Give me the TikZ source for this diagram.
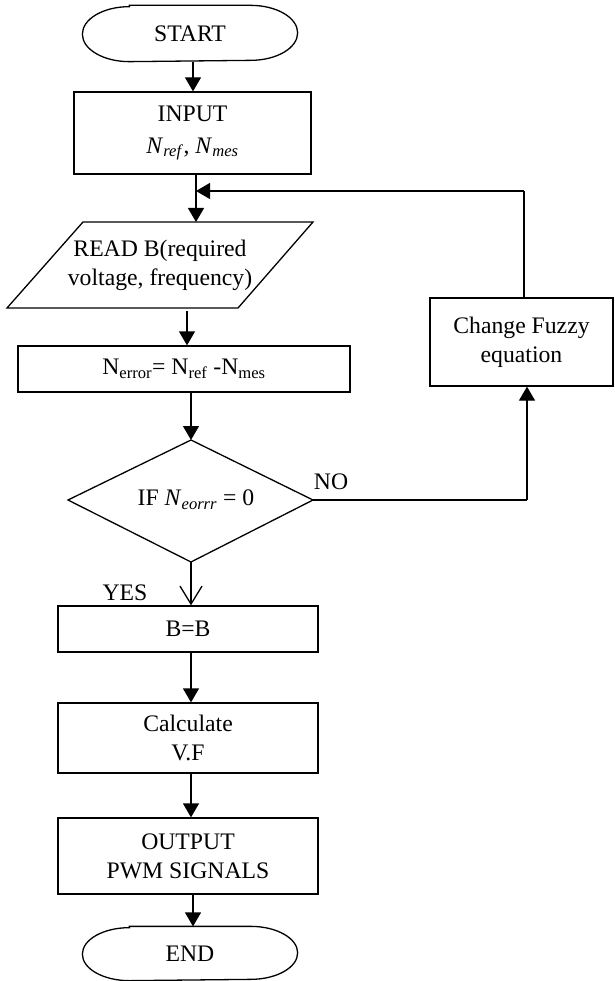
\documentclass[tikz,border=0pt]{standalone}
\usepackage{fontspec}
\setmainfont{Liberation Serif}
\usetikzlibrary{arrows.meta,calc}
\newcommand\mystadium[3]{%
 \draw ($(#1.north west)+(#2,0)$) -- ($(#1.north east)+(-#2,0)$)
   arc[start angle=90,end angle=-90,x radius=#2,y radius=#3]
   -- ($(#1.south west)+(#2,0)$)
   arc[start angle=270,end angle=90,x radius=#2,y radius=#3] -- cycle;}
\begin{document}
\begin{tikzpicture}[x=1pt,y=1pt,line width=1.3pt,
  font=\fontsize{23.7}{29}\selectfont,
  box/.style={draw,rectangle,align=center,inner sep=0pt},
  plain/.style={align=center,inner sep=0pt},
  arr/.style={-{Triangle[length=14pt,width=16pt]}},
  oarr/.style={-{Straight Barb[length=18pt,width=22pt]}}]
\useasboundingbox (0,0) rectangle (614,-981);

% nodes
\node[plain,minimum width=214pt,minimum height=55pt] (start) at (190,-33.5) {START};
\mystadium{start}{47}{27.5}
\node[box,minimum width=237pt,minimum height=82pt,font=\fontsize{23.7}{32}\selectfont] (input) at (192.5,-133)
  {INPUT\\\textit{N}\textsubscript{\textit{ref}}, \textit{N}\textsubscript{\textit{mes}}};
\node[plain] (read) at (160,-265) {READ B(required\\voltage, frequency)};
\draw (83,-222) -- (313,-222) -- (238,-308) -- (7,-308) -- cycle;
\node[box,minimum width=332pt,minimum height=46pt] (err) at (184,-369)
  {N\textsubscript{error}= N\textsubscript{ref} -N\textsubscript{mes}};
\coordinate (dtop) at (191,-440);
\coordinate (dright) at (313,-500);
\coordinate (dbot) at (191,-562);
\coordinate (dleft) at (68,-500);
\draw (dtop) -- (dright) -- (dbot) -- (dleft) -- cycle;
\node[plain] (dec) at (196,-500) {IF \textit{N}\textsubscript{\textit{eorrr}} = 0};
\node[box,minimum width=183pt,minimum height=88pt] (fuzzy) at (521.5,-342) {Change Fuzzy\\equation};
\node[box,minimum width=260pt,minimum height=46pt] (bb) at (188,-629) {B=B};
\node[box,minimum width=260pt,minimum height=70pt] (calc) at (188,-738) {Calculate\\V.F};
\node[box,minimum width=260pt,minimum height=76pt] (out) at (188,-856) {OUTPUT\\PWM SIGNALS};
\node[plain,minimum width=214pt,minimum height=53pt] (stop) at (190,-953.5) {END};
\mystadium{stop}{47}{26.5}

\node[plain] (no) at (331,-482) {NO};
\node[plain] (yes) at (125,-593) {YES};

% helper coordinates for connector x positions
\coordinate (x193) at (193,0);
\coordinate (x196) at (196,0);
\coordinate (x187) at (187,0);
\coordinate (x191) at (191,0);
\coordinate (x524) at (524,0);
\coordinate (x527) at (527,0);
\coordinate (fb) at (524,-191);
\coordinate (fbj) at (196,-191);
\coordinate (nocorner) at (527,-500);

% connectors
\draw[arr] (start.south -| x193) -- (input.north -| x193);
\draw[arr] (input.south -| x196) -- (196,-222);
\draw (fuzzy.north -| x524) -- (fb);
\draw[arr] (fb) -- (fbj);
\draw[arr] (187,-311) -- (err.north -| x187);
\draw[arr] (err.south -| x191) -- (dtop);
\draw (dright) -- (nocorner);
\draw[arr] (nocorner) -- (fuzzy.south -| x527);
\draw[oarr] (dbot) -- (bb.north -| x191);
\draw[arr] (bb.south -| x191) -- (calc.north -| x191);
\draw[arr] (calc.south -| x191) -- (out.north -| x191);
\draw[arr] (out.south -| x193) -- (stop.north -| x193);
\end{tikzpicture}
\end{document}
